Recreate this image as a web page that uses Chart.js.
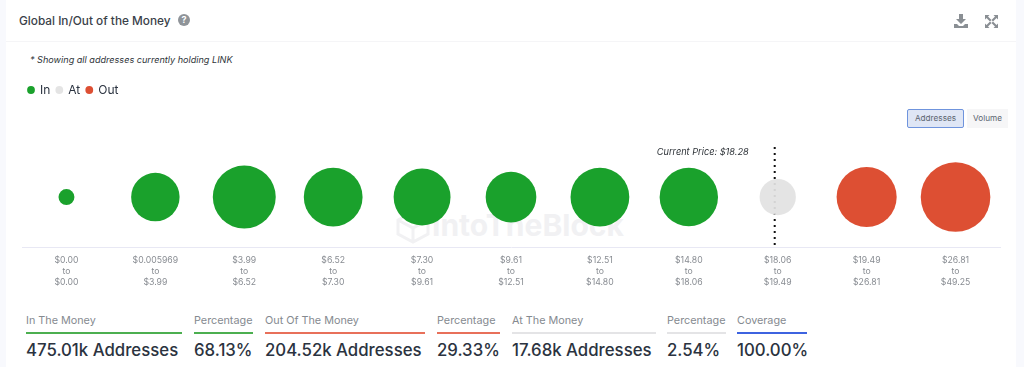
<!DOCTYPE html>
<html>
<head>
<meta charset="utf-8">
<script src="https://cdn.jsdelivr.net/npm/chart.js@4/dist/chart.umd.min.js"></script>
<style>
    html, body { margin: 0; padding: 0; width: 1024px; height: 367px; overflow: hidden; background: #f8f9fd; font-family: Inter, sans-serif; }
    .card { position: absolute; left: 6px; top: 0; width: 1010px; height: 367px; background: #fff; }
    .abs { position: absolute; white-space: nowrap; }
    .title { left: 19px; top: 12px; font-size: 11.8px; font-weight: 500; line-height: 18px; color: #3a4149; }
    .help { left: 178px; top: 14px; width: 12px; height: 12px; border-radius: 50%; background: #8f9499; color: #fff; font-size: 9px; font-weight: 700; line-height: 12px; text-align: center; }
    .divider { left: 6px; top: 41px; width: 1010px; height: 1px; background: #f5f5f7; }
    .note { left: 30px; top: 53px; font-size: 9.1px; font-style: italic; line-height: 14px; color: #2e3338; }
    .btn { top: 109px; height: 19px; box-sizing: border-box; font-size: 8.2px; line-height: 17px; text-align: center; color: #5b6470; }
    .btn.on { left: 907px; width: 57px; background: #dfe6f5; border: 1px solid #6f94dd; border-radius: 2px; }
    .btn.off { left: 967px; width: 41px; background: #f6f6f7; border: 1px solid #f6f6f7; }
    .mark { left: 432px; top: 208px; font-size: 30px; font-weight: 700; line-height: 34px; color: #f1f1f3; }
    .stat { top: 313px; }
    .stat .lbl { position: absolute; left: 0; top: 0; font-size: 10.8px; line-height: 16px; color: #858a90; white-space: nowrap; }
    .stat .bar { position: absolute; left: 0; right: 0; top: 19px; height: 2px; }
    .stat .val { position: absolute; left: 0; top: 26px; font-size: 16.8px; font-weight: 500; line-height: 23px; color: #2b3340; white-space: nowrap; }
    canvas { position: absolute; left: 0; top: 78px; }
</style>
</head>
<body>
<div class="card"></div>
<div class="abs divider"></div>
<div class="abs title">Global In/Out of the Money</div>
<div class="abs help">?</div>
<svg class="abs" style="left:954px;top:14px" width="14" height="14" viewBox="0 0 14 14"><path d="M5 0h4v5h3L7 10 2 5h3zM0 10h3l2 2h4l2-2h3v4H0z" fill="#8a8f94"/></svg>
<svg class="abs" style="left:985px;top:15px" width="13" height="13" viewBox="0 0 13 13"><path d="M0 0h4.500L3 1.500 6.500 5 5 6.500 1.500 3 0 4.500zM13 0v4.500L11.500 3 8 6.500 6.500 5 10 1.500 8.500 0zM0 13V8.500L1.500 10 5 6.500 6.500 8 3 11.500 4.500 13zM13 13H8.500L10 11.500 6.500 8 8 6.500 11.500 10 13 8.500z" fill="#8a8f94"/></svg>
<div class="abs note">* Showing all addresses currently holding LINK</div>
<div class="abs btn on">Addresses</div>
<div class="abs btn off">Volume</div>
<svg class="abs" style="left:396px;top:210px" width="34" height="34" viewBox="0 0 34 34"><path d="M2 10 17 2l15 8v14l-15 8-15-8zM2 10l15 8 15-8M17 18v14" fill="none" stroke="#f1f1f3" stroke-width="3"/></svg>
<div class="abs mark">IntoTheBlock</div>
<canvas id="moneyChart" width="1024" height="210"></canvas>
<div id="stats"></div>

<script>
// price bins, one per bubble
const priceBins = [
    ['$0.00', 'to', '$0.00'],
    ['$0.005969', 'to', '$3.99'],
    ['$3.99', 'to', '$6.52'],
    ['$6.52', 'to', '$7.30'],
    ['$7.30', 'to', '$9.61'],
    ['$9.61', 'to', '$12.51'],
    ['$12.51', 'to', '$14.80'],
    ['$14.80', 'to', '$18.06'],
    ['$18.06', 'to', '$19.49'],
    ['$19.49', 'to', '$26.81'],
    ['$26.81', 'to', '$49.25']
];

// addresses per bin, in thousands
const inValues = [1.5, 42, 92, 75, 68, 48, 75, 73.5, null, null, null];
const atValues = [null, null, null, null, null, null, null, null, 17.68, null, null];
const outValues = [null, null, null, null, null, null, null, null, null, 80, 124.52];

const seriesNames = ['In', 'At', 'Out'];
const seriesColors = ['#1aa12c', 'rgba(226, 226, 226, 0.93)', '#dd4f33'];

// footer figures
const statLabels = ['In The Money', 'Percentage', 'Out Of The Money', 'Percentage', 'At The Money', 'Percentage', 'Coverage'];
const statValues = ['475.01k Addresses', '68.13%', '204.52k Addresses', '29.33%', '17.68k Addresses', '2.54%', '100.00%'];
const statLefts = [26, 194, 265, 437, 512, 667, 737];
const statWidths = [156, 59, 160, 63, 144, 59, 70];
const statColors = ['#4caf50', '#4caf50', '#e8705a', '#e8705a', '#e4e4e6', '#e4e4e6', '#3d63e0'];

const currentPriceText = 'Current Price: $18.28';
const currentPriceBin = 7.966;

// bubble radius grows with the cube root of the value
function toBubbles(values) {
    const points = [];
    values.forEach((v, i) => {
        if (v !== null) points.push({ x: priceBins[i], y: 0, r: 6.97 * Math.cbrt(v) });
    });
    return points;
}

// dotted line sits under the bubbles
const currentPriceLine = {
    id: 'currentPriceLine',
    beforeDatasetsDraw(chart) {
        const { ctx, chartArea, scales } = chart;
        const x = scales.x.getPixelForValue(currentPriceBin);
        ctx.save();
        ctx.strokeStyle = '#111';
        ctx.lineWidth = 2;
        ctx.setLineDash([2, 4]);
        ctx.beginPath();
        ctx.moveTo(x, chartArea.top);
        ctx.lineTo(x, chartArea.bottom);
        ctx.stroke();
        ctx.setLineDash([]);
        ctx.fillStyle = '#2e3338';
        ctx.font = 'italic 9.2px Inter, sans-serif';
        ctx.textAlign = 'right';
        ctx.textBaseline = 'middle';
        ctx.fillText(currentPriceText, x - 26, chartArea.top + 5);
        ctx.restore();
    }
};

// legend takes a fixed height so the plot area lands where it should
const legendHeight = {
    id: 'legendHeight',
    beforeInit(chart) {
        const fit = chart.legend.fit;
        chart.legend.fit = function () {
            fit.call(this);
            this.height = 69;
        };
    }
};

new Chart(document.getElementById('moneyChart'), {
    type: 'bubble',
    data: {
        labels: priceBins,
        datasets: [inValues, atValues, outValues].map((values, i) => ({
            label: seriesNames[i],
            data: toBubbles(values),
            backgroundColor: seriesColors[i],
            borderWidth: 0,
            hoverBorderWidth: 0
        }))
    },
    options: {
        responsive: false,
        animation: false,
        layout: { autoPadding: false, padding: { left: 22, right: 24, top: 0, bottom: 0 } },
        scales: {
            x: {
                type: 'category',
                offset: true,
                grid: { display: false },
                border: { color: '#e8e8f4', width: 1 },
                ticks: {
                    autoSkip: false,
                    maxRotation: 0,
                    padding: 0,
                    color: '#888c92',
                    font: { family: 'Inter, sans-serif', size: 8.7, lineHeight: 1.26 }
                }
            },
            y: { display: false, min: -1, max: 1 }
        },
        plugins: {
            legend: {
                position: 'top',
                align: 'start',
                labels: {
                    usePointStyle: true,
                    boxWidth: 6,
                    boxHeight: 5.5,
                    padding: 6,
                    color: '#2b3340',
                    font: { family: 'Inter, sans-serif', size: 12 }
                }
            },
            tooltip: { enabled: false }
        }
    },
    plugins: [currentPriceLine, legendHeight]
});

const stats = document.getElementById('stats');
statLabels.forEach((label, i) => {
    const el = document.createElement('div');
    el.className = 'abs stat';
    el.style.left = statLefts[i] + 'px';
    el.style.width = statWidths[i] + 'px';
    el.innerHTML = '<div class="lbl">' + label + '</div><div class="bar" style="background:' + statColors[i] + '"></div><div class="val">' + statValues[i] + '</div>';
    stats.appendChild(el);
});
</script>
</body>
</html>
